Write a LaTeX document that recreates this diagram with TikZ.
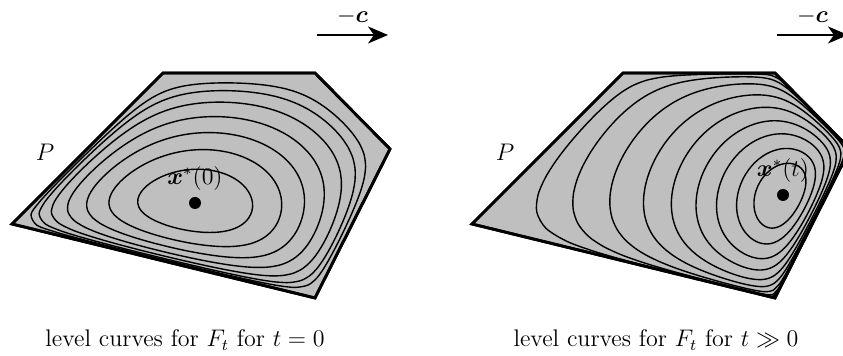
\documentclass[tikz,border=0pt]{standalone}
\usepackage{bm}
\usetikzlibrary{positioning, arrows.meta}
\definecolor{polyG}{gray}{0.75}

\ExplSyntaxOn
% corners of P on the pixel grid (y pointing down)
\clist_const:Nn \c_lc_px_clist {163,315,390,315,12}
\clist_const:Nn \c_lc_py_clist {73,73,149,298,224}
\clist_map_inline:nn {a,b,c,d,e}
  {
    \fp_new:c {g_lc_ax#1_fp}
    \fp_new:c {g_lc_ay#1_fp}
    \fp_new:c {l_lc_q#1_fp}
  }
\fp_new:N \l_lc_c_fp
\fp_new:N \l_lc_s_fp
\fp_new:N \l_lc_m_fp
\fp_new:N \l_lc_sum_fp
\fp_new:N \l_lc_n_fp
\fp_new:N \l_lc_lo_fp
\fp_new:N \l_lc_hi_fp
\fp_new:N \l_lc_top_fp
\fp_new:N \l_lc_t_fp
\fp_new:N \l_lc_g_fp
\fp_new:N \l_lc_dg_fp
\tl_new:N \g_lc_path_tl

% a_i / h_i for the minimiser x* = (#1,#2)
\cs_new_protected:Npn \lc_setup:nn #1#2
  {
    \int_step_inline:nn {5}
      {
        \int_set:Nn \l_tmpa_int { \int_mod:nn {##1} {5} + 1 }
        \fp_set:Nn \l_tmpa_fp
          { \clist_item:Nn \c_lc_py_clist {\l_tmpa_int} - \clist_item:Nn \c_lc_py_clist {##1} }
        \fp_set:Nn \l_tmpb_fp
          { \clist_item:Nn \c_lc_px_clist {##1} - \clist_item:Nn \c_lc_px_clist {\l_tmpa_int} }
        \fp_set:Nn \l_lc_g_fp
          { \l_tmpa_fp * ( \clist_item:Nn \c_lc_px_clist {##1} - (#1) )
            + \l_tmpb_fp * ( \clist_item:Nn \c_lc_py_clist {##1} - (#2) ) }
        \fp_gset:cn {g_lc_ax \int_to_alph:n {##1} _fp} { \l_tmpa_fp / \l_lc_g_fp }
        \fp_gset:cn {g_lc_ay \int_to_alph:n {##1} _fp} { \l_tmpb_fp / \l_lc_g_fp }
      }
  }

% one safeguarded Newton step in t = r / r_max (G is convex in t)
\cs_new_protected:Npn \__lc_newton:n #1
  {
    \fp_set:Nn \l_lc_g_fp
      { - \l_lc_t_fp * \l_lc_sum_fp
        - ln( (1 - \l_lc_t_fp * \l_lc_qa_fp) * (1 - \l_lc_t_fp * \l_lc_qb_fp)
            * (1 - \l_lc_t_fp * \l_lc_qc_fp) * (1 - \l_lc_t_fp * \l_lc_qd_fp)
            * (1 - \l_lc_t_fp * \l_lc_qe_fp) ) - (#1) }
    \fp_set:Nn \l_lc_dg_fp
      { \l_lc_t_fp *
        ( \l_lc_qa_fp * \l_lc_qa_fp / (1 - \l_lc_t_fp * \l_lc_qa_fp)
        + \l_lc_qb_fp * \l_lc_qb_fp / (1 - \l_lc_t_fp * \l_lc_qb_fp)
        + \l_lc_qc_fp * \l_lc_qc_fp / (1 - \l_lc_t_fp * \l_lc_qc_fp)
        + \l_lc_qd_fp * \l_lc_qd_fp / (1 - \l_lc_t_fp * \l_lc_qd_fp)
        + \l_lc_qe_fp * \l_lc_qe_fp / (1 - \l_lc_t_fp * \l_lc_qe_fp) ) }
    \fp_compare:nNnTF { \l_lc_g_fp } > { 0 }
      { \fp_set_eq:NN \l_lc_hi_fp \l_lc_t_fp }
      { \fp_set_eq:NN \l_lc_lo_fp \l_lc_t_fp }
    \fp_set:Nn \l_lc_n_fp { \l_lc_t_fp - \l_lc_g_fp / \l_lc_dg_fp }
    % overshoot from the left: restart from the right end of the bracket
    \fp_set:Nn \l_lc_t_fp
      { ( \l_lc_n_fp > \l_lc_lo_fp && \l_lc_n_fp < \l_lc_hi_fp )
        ? \l_lc_n_fp : \l_lc_hi_fp }
  }

% level curve F_t - F_t(x*) = #3 around (#1,#2)
\cs_new_protected:Npn \lc_curve:nnn #1#2#3
  {
    \tl_gclear:N \g_lc_path_tl
    \fp_set:Nn \l_lc_top_fp { 1 - exp( - (#3) - 1 ) }
    \fp_set_eq:NN \l_lc_t_fp \l_lc_top_fp
    \int_step_inline:nnnn {0} {4} {356}
      {
        \fp_set:Nn \l_lc_c_fp { cosd(##1) }
        \fp_set:Nn \l_lc_s_fp { sind(##1) }
        \clist_map_inline:nn {a,b,c,d,e}
          {
            \fp_set:cn {l_lc_q####1_fp}
              { \use:c {g_lc_ax####1_fp} * \l_lc_c_fp + \use:c {g_lc_ay####1_fp} * \l_lc_s_fp }
          }
        \fp_set:Nn \l_lc_m_fp
          { max( \l_lc_qa_fp, \l_lc_qb_fp, \l_lc_qc_fp, \l_lc_qd_fp, \l_lc_qe_fp ) }
        \clist_map_inline:nn {a,b,c,d,e}
          { \fp_set:cn {l_lc_q####1_fp} { \use:c {l_lc_q####1_fp} / \l_lc_m_fp } }
        \fp_set:Nn \l_lc_sum_fp
          { \l_lc_qa_fp + \l_lc_qb_fp + \l_lc_qc_fp + \l_lc_qd_fp + \l_lc_qe_fp }
        \fp_set:Nn \l_lc_lo_fp { 0 }
        \fp_set_eq:NN \l_lc_hi_fp \l_lc_top_fp
        \fp_set:Nn \l_lc_t_fp { min( \l_lc_t_fp , \l_lc_top_fp ) }
        \prg_replicate:nn { \int_compare:nNnTF {##1} = {0} {16} {8} } { \__lc_newton:n {#3} }
        \fp_set:Nn \l_lc_n_fp { \l_lc_t_fp / \l_lc_m_fp }
        \tl_gput_right:Nx \g_lc_path_tl
          {
            ( \fp_eval:n { round( #1 + \l_lc_n_fp * \l_lc_c_fp , 2 ) } ,
              \fp_eval:n { round( #2 + \l_lc_n_fp * \l_lc_s_fp , 2 ) } )
          }
      }
  }

\NewDocumentCommand \lcsetup { m m } { \lc_setup:nn {#1} {#2} }
\NewDocumentCommand \levelcurve { m m m }
  {
    \lc_curve:nnn {#1} {#2} {#3}
    \use:x { \exp_not:N \draw [lvl] ~ plot [smooth~cycle] ~ coordinates ~ { \g_lc_path_tl } ; }
  }
\ExplSyntaxOff

\begin{document}
\begin{tikzpicture}[x=0.5pt, y=-0.5pt, font=\fontsize{12}{14}\selectfont,
   poly/.style={fill=polyG, draw=black, line width=1.4pt},
   lvl/.style={draw=black, line width=0.7pt},
   dot/.style={circle, fill=black, inner sep=0pt, minimum size=6pt},
   carrow/.style={line width=1.2pt, -{Stealth[length=10pt, width=8.5pt, inset=3pt]}}]
  \useasboundingbox (0,0) rectangle (843,356);
  % panels: shift / x* / argument / relation / caption x / levels
  \foreach \sh/\cx/\cy/\tv/\rel/\capx/\lvls [count=\j] in {%
      0/195/203/0/{=}/185/{0.18,0.44,0.77,1.2,1.75,2.4,3.1},%
      460/323/195/t/{\gg}/196/{0.18,0.41,0.75,1.16,1.72,2.43,3.4,4.64,6.16}}{%
    \begin{scope}[shift={(\sh,0)}]
      \draw[poly] (163,73) -- (315,73) -- (390,149) -- (315,298) -- (12,224) -- cycle;
      \lcsetup{\cx}{\cy}
      \foreach \L in \lvls {\levelcurve{\cx}{\cy}{\L}}
      \draw[poly, fill=none] (163,73) -- (315,73) -- (390,149) -- (315,298) -- (12,224) -- cycle;
      \node[dot] (xs\j) at (\cx,\cy) {};
      \node[above=-0.5pt of xs\j] (xl\j) {$\bm{x}^*(\tv)$};
      \node (P\j) at (45,152) {$P$};
      % direction -c
      \coordinate (ca\j) at (317,35);
      \coordinate (cb\j) at (388,35);
      \draw[carrow] (ca\j) -- (cb\j) node[midway, above=1.5pt] (c\j) {$-\bm{c}$};
      \node (cap\j) at (\capx,340) {level curves for $F_t$ for $t \rel 0$};
    \end{scope}
  }
\end{tikzpicture}
\end{document}
